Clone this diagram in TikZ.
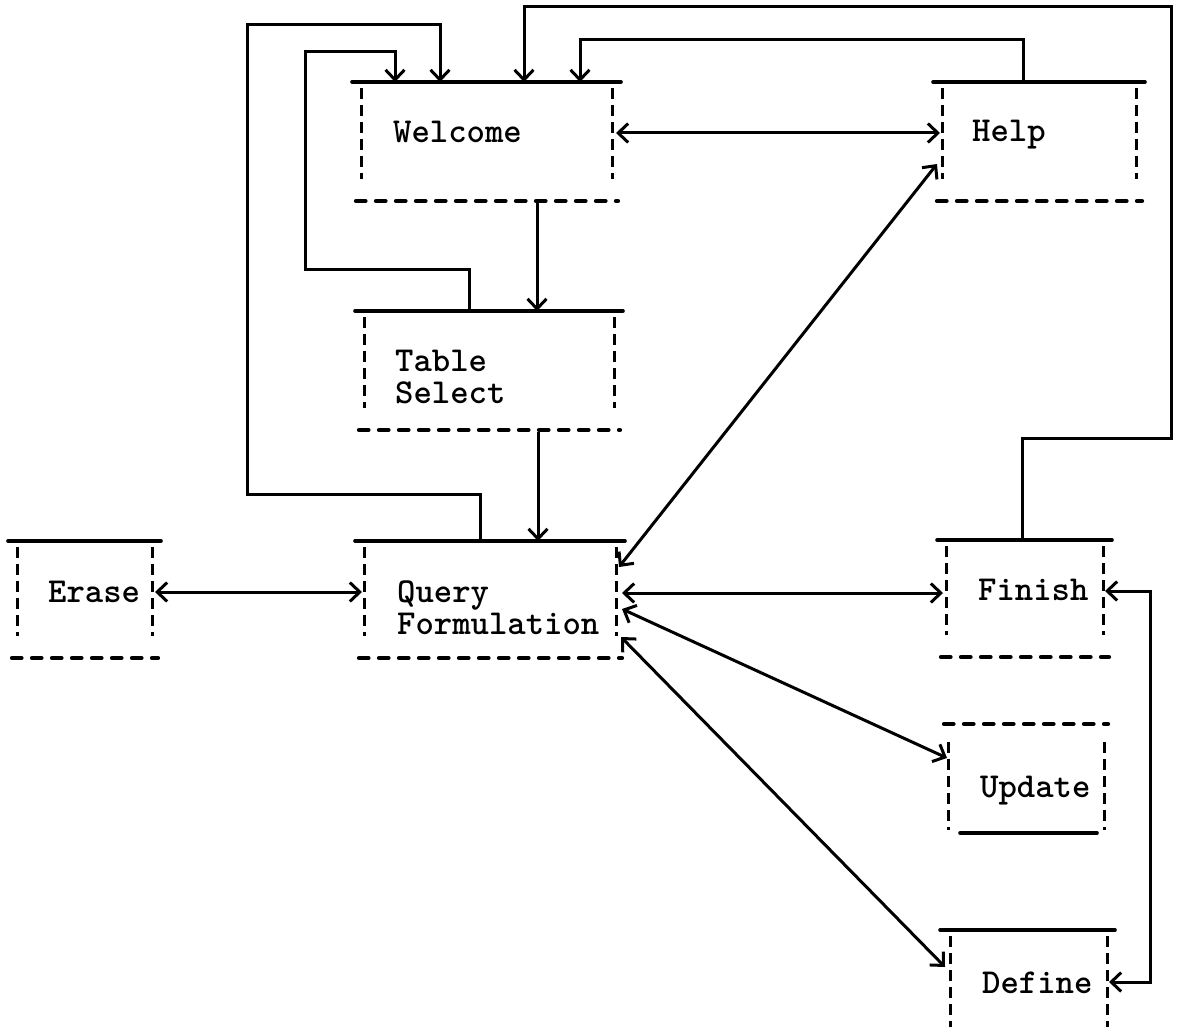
\documentclass[tikz,border=0pt]{standalone}
\usepackage{fontspec}
\usetikzlibrary{arrows.meta,calc}

% frame of a screen box: solid top rule, dashed sides, dashed base
\newcommand\stdframe[1]{%
  \draw[rule] (#1.north west) -- (#1.north east);
  \draw[sidedash] ($(#1.north west)+(9,6)$) -- ($(#1.south west)+(9,-22)$);
  \draw[sidedash] ($(#1.north east)+(-9,6)$) -- ($(#1.south east)+(-9,-22)$);
  \draw[basedash] ($(#1.south west)+(4,0)$) -- ($(#1.south east)+(-3,0)$);
}
% two-line label, aligned on its first baseline
\newcommand\twolines[3]{\fontsize{35}{#3}\selectfont\begin{tabular}[t]{@{}l@{}}#1\\#2\end{tabular}}

\begin{document}
\begin{tikzpicture}[x=1pt,y=-1pt,
  box/.style={draw=none,rectangle,inner sep=0pt,outer sep=0pt},
  rule/.style={line width=3.6pt,line cap=round},
  sidedash/.style={line width=3pt,dash pattern=on 11pt off 6pt},
  basedash/.style={line width=4.2pt,line cap=round,dash pattern=on 9.5pt off 10.5pt},
  link/.style={line width=3pt},
  lbl/.style={font=\ttfamily\bfseries\fontsize{35}{36}\selectfont,inner sep=0pt,anchor=base west},
  >={Straight Barb[length=10pt,width=19pt]}]

\useasboundingbox[fill=white] (0,0) rectangle (1180,1027);

% screen boxes
\node[box,minimum width=269pt,minimum height=119pt] (welcome) at (486.5,141.5) {};
\node[box,minimum width=212pt,minimum height=119pt] (help)    at (1039,141.5) {};
\node[box,minimum width=268pt,minimum height=119pt] (table)   at (489,370.5) {};
\node[box,minimum width=270pt,minimum height=117pt] (query)   at (490,599.5) {};
\node[box,minimum width=153pt,minimum height=117pt] (erase)   at (84.5,599.5) {};
\node[box,minimum width=175pt,minimum height=117pt] (finish)  at (1024.5,598.5) {};
\node[box,minimum width=168pt,minimum height=109pt] (update)  at (1026,778.5) {};
\node[box,minimum width=175pt,minimum height=110pt] (define)  at (1027.5,985) {};

\stdframe{welcome}
\stdframe{help}
\stdframe{table}
\stdframe{query}
\stdframe{erase}
\stdframe{finish}

% Update: dashed top, solid short base
\draw[basedash] ($(update.north west)+(2,0)$) -- ($(update.north east)+(-2,0)$);
\draw[sidedash] ($(update.north west)+(6,18)$) -- ($(update.south west)+(6,-3)$);
\draw[sidedash] ($(update.north east)+(-6,18)$) -- ($(update.south east)+(-6,-3)$);
\draw[rule] ($(update.south west)+(18,0)$) -- ($(update.south east)+(-13,0)$);

% Define: solid top, sides running off the sheet
\draw[rule] (define.north west) -- (define.north east);
\draw[sidedash] ($(define.north west)+(10,6)$) -- ($(define.north west)+(10,97)$);
\draw[sidedash] ($(define.north east)+(-8,6)$) -- ($(define.north east)+(-8,97)$);

% labels
\node[lbl] (welcomeT) at (393,143) {Welcome};
\node[lbl] (helpT)    at (972,142) {Help};
\node[lbl] (tableT)   at (395,371) {\twolines{Table}{Select}{32}};
\node[lbl] (queryT)   at (397,602) {\twolines{Query}{Formulation}{32}};
\node[lbl] (eraseT)   at (48,602)  {Erase};
\node[lbl] (finishT)  at (978,600) {Finish};
\node[lbl] (updateT)  at (980,797) {Update};
\node[lbl] (defineT)  at (982,993) {Define};

% routing corners
\coordinate (tsA) at (305,269);
\coordinate (tsB) at (395,52);
\coordinate (qA)  at (247,494);
\coordinate (qB)  at (440,25);
\coordinate (fA)  at (1171,438);
\coordinate (fB)  at (524,7);
\coordinate (hA)  at (580,40);
\coordinate (fdC) at (1150,780);

% connectors
\draw[link,<->] ($(welcome.north east)+(-5,51)$) -- ($(help.north west)+(7,51)$);
\draw[link,->] ($(welcome.south west)+(185,2)$) -- ($(table.north west)+(182,0)$);
\draw[link,->] ($(table.south west)+(183,2)$) -- ($(query.north west)+(183,0)$);
\draw[link,->] ($(table.north west)+(114,0)$) |- (tsA) |- (tsB) -- ($(welcome.north west)+(43,0)$);
\draw[link,->] ($(query.north west)+(125,0)$) |- (qA) |- (qB) -- ($(welcome.north west)+(88,0)$);
\draw[link,->] ($(finish.north west)+(85,0)$) |- (fA) |- (fB) -- ($(welcome.north west)+(172,0)$);
\draw[link,->] ($(help.north west)+(90,0)$) |- (hA) -- ($(welcome.north west)+(228,0)$);
\draw[link,<->] ($(help.north west)+(4,82)$) -- ($(query.north east)+(-6,26)$);
\draw[link,<->] ($(erase.north east)+(-6,51)$) -- ($(query.north west)+(7,51)$);
\draw[link,<->] ($(query.north east)+(-3,52)$) -- ($(finish.north west)+(6,53)$);
\draw[link,<->] ($(query.north east)+(-3,68)$) -- ($(update.north west)+(5,34)$);
\draw[link,<->] ($(query.north east)+(-4,96)$) -- ($(define.north west)+(5,37)$);
\draw[link,<->] ($(finish.north east)+(-7,51)$) -| (fdC) |- ($(define.north east)+(-6,52)$);

\end{tikzpicture}
\end{document}
